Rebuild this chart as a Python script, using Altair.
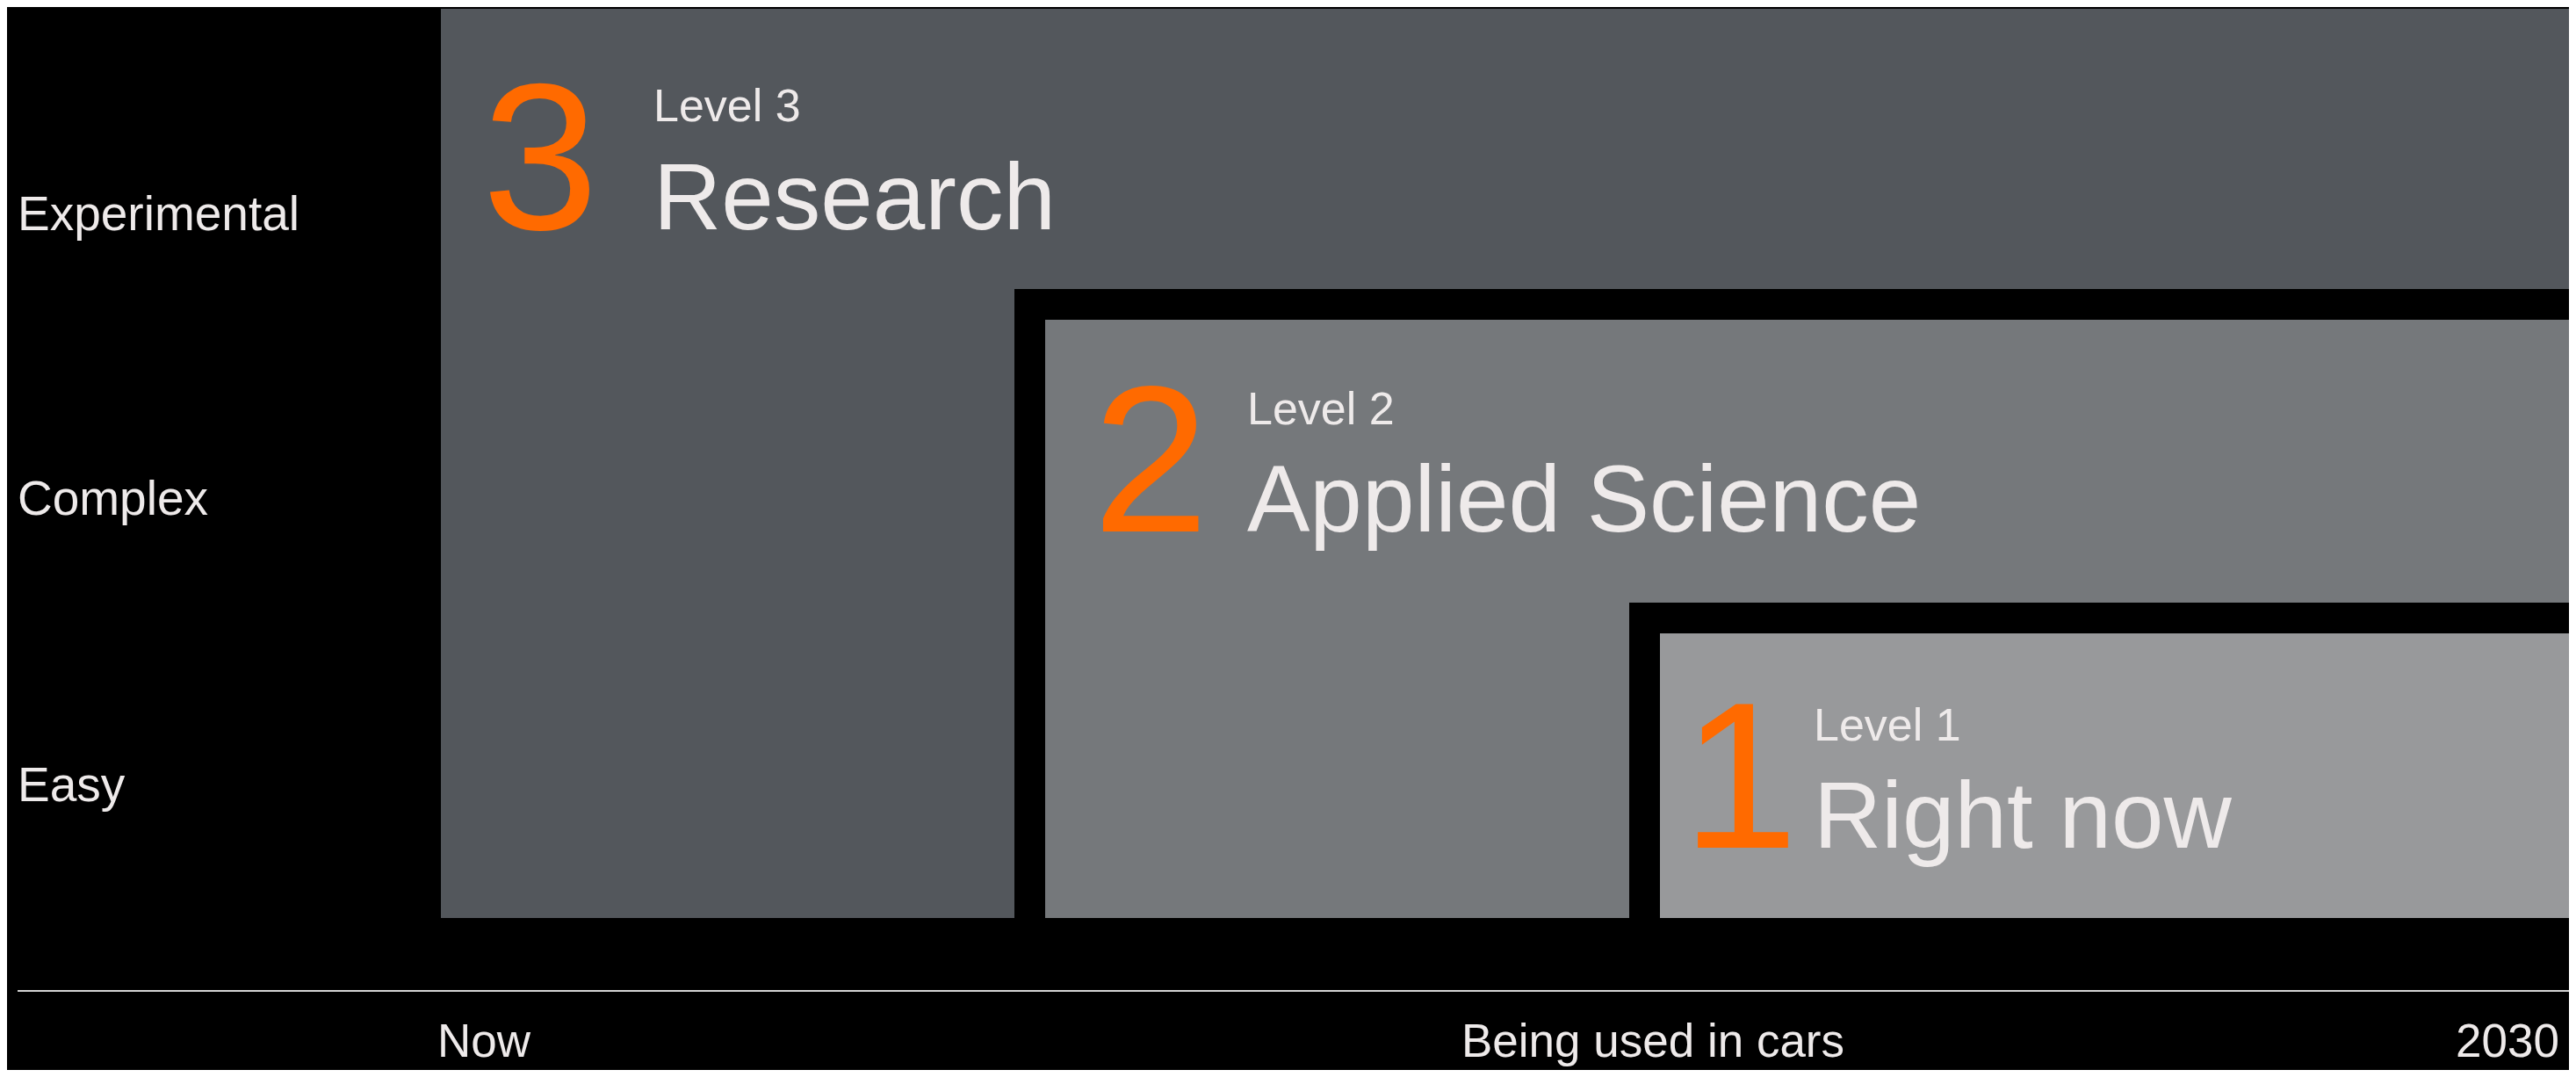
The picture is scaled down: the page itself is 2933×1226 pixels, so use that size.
import altair as alt
import pandas as pd

# ---- data ---------------------------------------------------------------
level_num = ["3", "2", "1"]
level_tag = ["Level 3", "Level 2", "Level 1"]
level_name = ["Research", "Applied Science", "Right now"]
level_left = [502, 1190, 1890]      # where each level block starts (x)
level_top = [10, 364, 721]          # top edge of each level block (y)
level_fill = ["#53575c", "#75787b", "#98999b"]
block_bottom = 1045
block_right = 2933
gap = 35

digit_x = [549, 1244, 1915]
tag_x = [744, 1420, 2065]
tag_y = [138, 483, 843]
name_y = [261, 605, 965]

row_labels = ["Experimental", "Complex", "Easy"]
row_y = [262, 586, 912]

time_labels = ["Now", "Being used in cars", "2030"]
time_x = [498, 1882, 2914]
time_y = 1203
axis_y = 1128

# ---- tables -------------------------------------------------------------
blocks = pd.DataFrame({
    "x": level_left, "y": level_top,
    "x2": [block_right] * 3, "y2": [block_bottom] * 3,
    "fill": level_fill,
})
frames = pd.DataFrame({
    "x": [v - gap for v in level_left], "y": [v - gap for v in level_top],
    "x2": [block_right] * 3, "y2": [block_bottom] * 3,
    "fill": ["#000000"] * 3,
})
order = []
for i in range(3):
    order.append(frames.iloc[[i]])
    order.append(blocks.iloc[[i]])
rects = pd.concat(order, ignore_index=True)

digits = pd.DataFrame({"x": digit_x, "y": name_y, "t": level_num})
tags = pd.DataFrame({"x": tag_x, "y": tag_y, "t": level_tag})
names = pd.DataFrame({"x": tag_x, "y": name_y, "t": level_name})
rows = pd.DataFrame({"x": [20] * 3, "y": row_y, "t": row_labels})
times = pd.DataFrame({"x": time_x, "y": [time_y] * 3, "t": time_labels})
rule = pd.DataFrame({"x": [20], "x2": [2933], "y": [axis_y]})

XS = alt.Scale(domain=[8, 2925], nice=False, zero=False)
YS = alt.Scale(domain=[8, 1218], nice=False, zero=False, reverse=True)
FONT = "Liberation Sans"
TXT = "#eeeaea"
ORANGE = "#ff6a00"

def X(f="x"):
    return alt.X(f"{f}:Q", scale=XS, axis=None)

def Y(f="y"):
    return alt.Y(f"{f}:Q", scale=YS, axis=None)

rect_layers = []
for i in range(len(rects)):
    rect_layers.append(
        alt.Chart(rects.iloc[[i]]).mark_rect(clip=True).encode(
            x=X(), x2="x2:Q", y=Y(), y2="y2:Q",
            color=alt.Color("fill:N", scale=None),
        )
    )

digit_layer = alt.Chart(digits).mark_text(
    font=FONT, fontSize=238, color=ORANGE, align="left", baseline="alphabetic"
).encode(x=X(), y=Y(), text="t:N")

tag_layer = alt.Chart(tags).mark_text(
    font=FONT, fontSize=52, color=TXT, align="left", baseline="alphabetic"
).encode(x=X(), y=Y(), text="t:N")

name_layer = alt.Chart(names).mark_text(
    font=FONT, fontSize=107, color=TXT, align="left", baseline="alphabetic"
).encode(x=X(), y=Y(), text="t:N")

row_layer = alt.Chart(rows).mark_text(
    font=FONT, fontSize=55, color=TXT, align="left", baseline="alphabetic"
).encode(x=X(), y=Y(), text="t:N")

rule_layer = alt.Chart(rule).mark_rule(color="#d4d4d4", strokeWidth=2, clip=True).encode(
    x=X(), x2="x2:Q", y=Y()
)

t_left = alt.Chart(times.iloc[[0]]).mark_text(
    font=FONT, fontSize=53, color=TXT, align="left", baseline="alphabetic"
).encode(x=X(), y=Y(), text="t:N")
t_mid = alt.Chart(times.iloc[[1]]).mark_text(
    font=FONT, fontSize=53, color=TXT, align="center", baseline="alphabetic"
).encode(x=X(), y=Y(), text="t:N")
t_right = alt.Chart(times.iloc[[2]]).mark_text(
    font=FONT, fontSize=53, color=TXT, align="right", baseline="alphabetic"
).encode(x=X(), y=Y(), text="t:N")

chart = alt.layer(
    *rect_layers, digit_layer, tag_layer, name_layer, row_layer,
    rule_layer, t_left, t_mid, t_right
).properties(
    width=2917, height=1210, background="#000000", padding=0,
    autosize=alt.AutoSizeParams(type="none"),
).configure_view(stroke=None)

chart.save("out.html", embed_options={"renderer": "svg", "actions": False})
